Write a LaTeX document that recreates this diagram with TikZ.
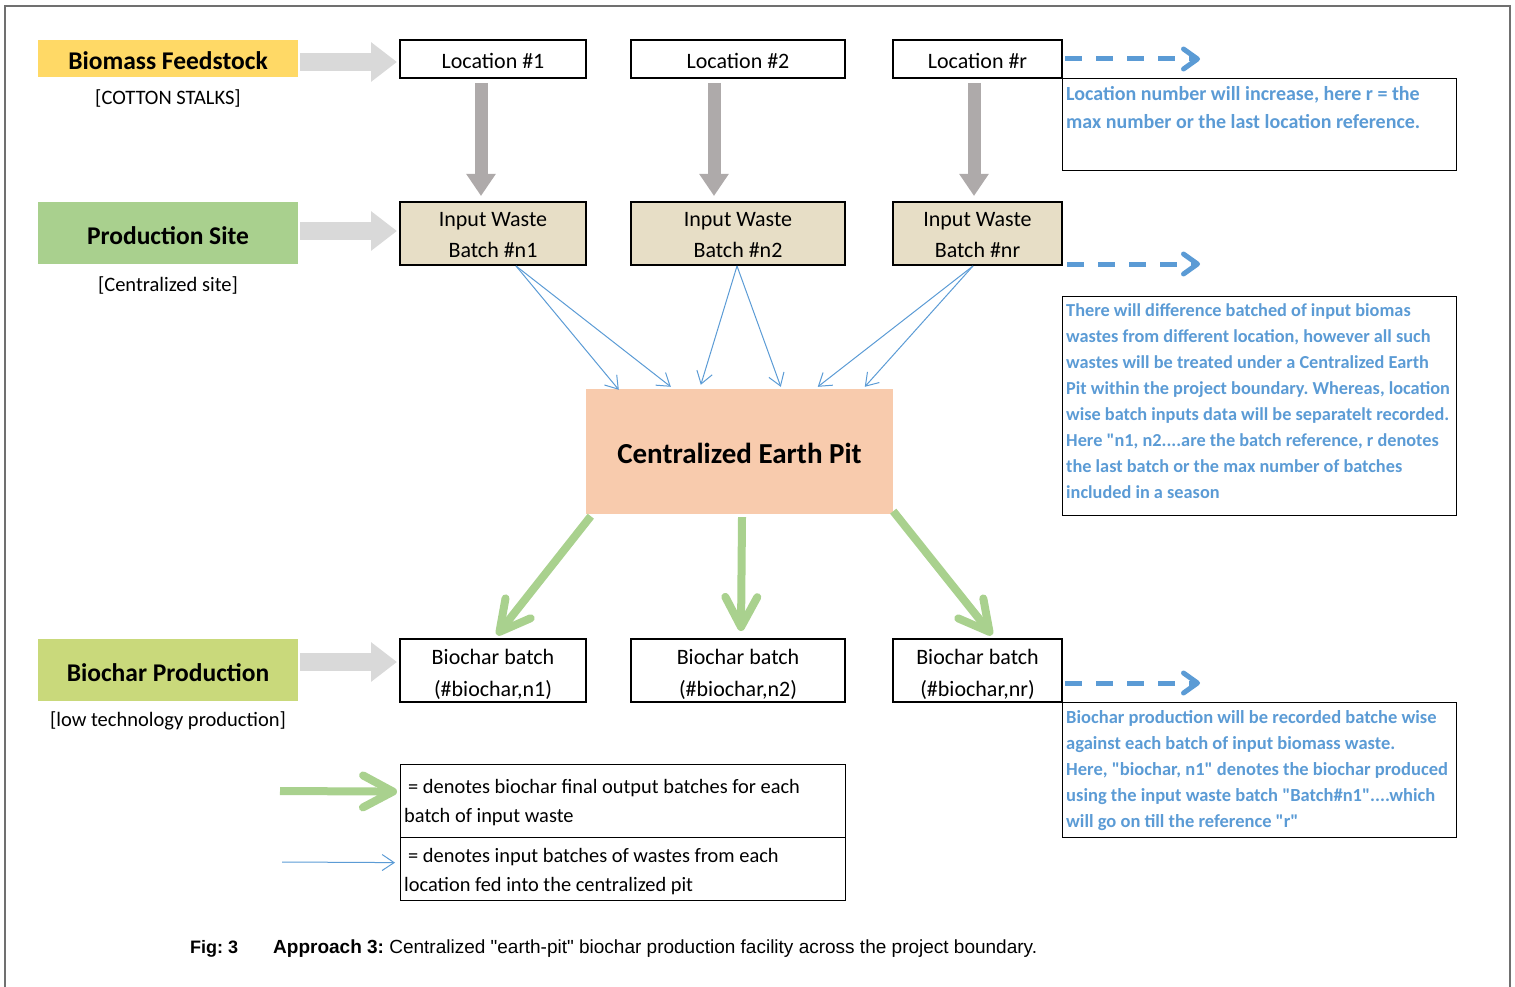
\documentclass[tikz,border=0pt]{standalone}
\usepackage{fontspec}
\setmainfont{Carlito}[Ligatures=TeXOff]
\newfontfamily\arialf{Liberation Sans}[Ligatures=TeXOff]
\usetikzlibrary{arrows.meta}
\definecolor{bluetxt}{HTML}{5B9BD5}
\definecolor{yel}{HTML}{FFD966}
\definecolor{grn}{HTML}{A9D08E}
\definecolor{olive}{HTML}{C9D97B}
\definecolor{beige}{HTML}{E7DEC6}
\definecolor{peach}{HTML}{F8CBAD}
\definecolor{arrgreen}{HTML}{A9D18E}
\definecolor{lgray}{HTML}{D9D9D9}
\definecolor{dgray}{HTML}{AEAAAA}
\definecolor{framecol}{HTML}{707070}
\newcommand\myfs[2]{\fontsize{#1}{#2}\selectfont}
\frenchspacing
\begin{document}
\begin{tikzpicture}[x=1pt,y=-1pt,
  lbl/.style={minimum width=260pt, inner sep=0pt},
  lbltext/.style={inner sep=0pt, font=\myfs{25.5}{30}\bfseries},
  sublbl/.style={inner sep=0pt, font=\myfs{20.5}{24}},
  wbox/.style={draw=black, line width=2pt, inner sep=0pt},
  btext/.style={inner sep=0pt, align=center, font=\myfs{22}{31}},
  notebox/.style={draw=black, line width=1.2pt, inner sep=0pt, minimum width=394pt, anchor=north west},
  notetext/.style={inner sep=0pt, align=left, text=bluetxt, anchor=north west},
  hgray/.style={draw=lgray, line width=18pt, -{Triangle[length=26pt,width=38pt]}},
  vgray/.style={draw=dgray, line width=13pt, -{Triangle[length=22pt,width=28pt]}},
  blueln/.style={draw=bluetxt, line width=1pt, -{Straight Barb[length=12pt,width=16pt]}},
  grnarr/.style={draw=arrgreen, line width=8pt, -{Straight Barb[length=30pt,width=32pt,round]}},
  dasharr/.style={draw=bluetxt, line width=5pt, dash pattern=on 17pt off 14pt, -{Straight Barb[length=14pt,width=20pt,round]}},
]
\useasboundingbox (0,0) rectangle (1515,987);
\draw[framecol, line width=2pt] (5,987) -- (5,6) -- (1510,6) -- (1510,987);

% left labels
\node[lbl, fill=yel, minimum height=37pt] (bf) at (168,58.5) {};
\node[lbltext] (bftx) at ([shift={(0,2)}]bf.center) {Biomass Feedstock};
\node[sublbl] (bft) at (168,98) {[COTTON STALKS]};
\node[lbl, fill=grn, minimum height=62pt] (ps) at (168,233) {};
\node[lbltext] (pstx) at ([shift={(0,3)}]ps.center) {Production Site};
\node[sublbl] (pst) at (168,285) {[Centralized site]};
\node[lbl, fill=olive, minimum height=62pt] (bp) at (168,670) {};
\node[lbltext] (bptx) at ([shift={(0,3)}]bp.center) {Biochar Production};
\node[sublbl] (bpt) at (168,721) {[low technology production]};

% location boxes
\node[wbox, minimum width=186pt, minimum height=38pt] (loc1) at (493,59) {};
\node[wbox, minimum width=214pt, minimum height=38pt] (loc2) at (738,59) {};
\node[wbox, minimum width=169pt, minimum height=38pt] (locr) at (977.5,59) {};
\node[btext] (loc1t) at ([shift={(0,2)}]loc1.center) {Location \#1};
\node[btext] (loc2t) at ([shift={(0,2)}]loc2.center) {Location \#2};
\node[btext] (locrt) at ([shift={(0,2)}]locr.center) {Location \#r};

% input boxes
\node[wbox, fill=beige, minimum width=186pt, minimum height=63pt] (in1) at (493,233.5) {};
\node[wbox, fill=beige, minimum width=214pt, minimum height=63pt] (in2) at (738,233.5) {};
\node[wbox, fill=beige, minimum width=169pt, minimum height=63pt] (inr) at (977.5,233.5) {};
\node[btext] (in1t) at ([shift={(0,2)}]in1.center) {Input Waste\\Batch \#n1};
\node[btext] (in2t) at ([shift={(0,2)}]in2.center) {Input Waste\\Batch \#n2};
\node[btext] (inrt) at ([shift={(0,2)}]inr.center) {Input Waste\\Batch \#nr};

% biochar boxes
\node[wbox, minimum width=186pt, minimum height=63pt] (bc1) at (493,670.5) {};
\node[wbox, minimum width=214pt, minimum height=63pt] (bc2) at (738,670.5) {};
\node[wbox, minimum width=169pt, minimum height=63pt] (bcr) at (977.5,670.5) {};
\node[btext, font=\myfs{22}{32}] (bc1t) at ([shift={(0,3.5)}]bc1.center) {Biochar batch\\(\#biochar,n1)};
\node[btext, font=\myfs{22}{32}] (bc2t) at ([shift={(0,3.5)}]bc2.center) {Biochar batch\\(\#biochar,n2)};
\node[btext, font=\myfs{22}{32}] (bcrt) at ([shift={(0,3.5)}]bcr.center) {Biochar batch\\(\#biochar,nr)};

% pit
\node[fill=peach, minimum width=307pt, minimum height=125pt, inner sep=0pt] (pit) at (739.5,451.5) {};
\node[inner sep=0pt, font=\myfs{29}{34}\bfseries] (pitt) at ([shift={(0,2)}]pit.center) {Centralized Earth Pit};

% notes
\node[notebox, minimum height=92pt] (n1) at (1062,78) {};
\node[notetext, font=\myfs{20}{28}\bfseries] (n1t) at (1066,86.5) {Location number will increase, here r = the\\max number or the last location reference.};
\node[notebox, minimum height=219pt] (n2) at (1062,296) {};
\node[notetext, font=\myfs{18.3}{26}\bfseries] (n2t) at (1066,303) {There will difference batched of input biomas\\wastes from different location, however all such\\wastes will be treated under a Centralized Earth\\Pit within the project boundary. Whereas, location\\wise batch inputs data will be separatelt recorded.\\Here "n1, n2....are the batch reference, r denotes\\the last batch or the max number of batches\\included in a season};
\node[notebox, minimum height=135pt] (n3) at (1062,702) {};
\node[notetext, font=\myfs{18.5}{26}\bfseries] (n3t) at (1066,710) {Biochar production will be recorded batche wise\\against each batch of input biomass waste.\\Here, "biochar, n1" denotes the biochar produced\\using the input waste batch "Batch\#n1"....which\\will go on till the reference "r"};

% legend
\node[notebox, minimum width=445pt, minimum height=73pt] (lg1) at (400,764) {};
\node[notebox, minimum width=445pt, minimum height=63pt] (lg2) at (400,837) {};
\node[notetext, text=black, font=\myfs{20.4}{29}] (lg1t) at (404,779) {\hspace{4pt}= denotes biochar final output batches for each\\batch of input waste};
\node[notetext, text=black, font=\myfs{20.4}{29}] (lg2t) at (404,848) {\hspace{4pt}= denotes input batches of wastes from each\\location fed into the centralized pit};

% gray block arrows
\draw[hgray] ([shift={(2,3.5)}]bf.east) -- ([shift={(-2,3)}]loc1.west);
\draw[hgray] ([shift={(2,-2)}]ps.east) -- ([shift={(-2,-2.5)}]in1.west);
\draw[hgray] ([shift={(2,-8)}]bp.east) -- ([shift={(-2,-8.5)}]bc1.west);
\draw[vgray] ([shift={(-12,4)}]loc1.south) -- ([shift={(-12,-5)}]in1.north);
\draw[vgray] ([shift={(-24,4)}]loc2.south) -- ([shift={(-24,-5)}]in2.north);
\draw[vgray] ([shift={(-3.5,4)}]locr.south) -- ([shift={(-3.5,-5)}]inr.north);

% thin blue arrows
\draw[blueln] ([shift={(23,0)}]in1.south) -- ([shift={(33,1)}]pit.north west);
\draw[blueln] ([shift={(23,0)}]in1.south) -- ([shift={(85,-2)}]pit.north west);
\draw[blueln] ([shift={(-1,0)}]in2.south) -- ([shift={(115,-4)}]pit.north west);
\draw[blueln] ([shift={(-1,0)}]in2.south) -- ([shift={(195,-2)}]pit.north west);
\draw[blueln] ([shift={(-4.5,0)}]inr.south) -- ([shift={(232,-2)}]pit.north west);
\draw[blueln] ([shift={(-4.5,0)}]inr.south) -- ([shift={(279,-2)}]pit.north west);

% green arrows
\draw[grnarr] ([shift={(5,2)}]pit.south west) -- ([shift={(4,-3)}]bc1.north);
\draw[grnarr] ([shift={(2.5,3)}]pit.south) -- ([shift={(3,-7)}]bc2.north);
\draw[grnarr] ([shift={(0,-3)}]pit.south east) -- ([shift={(14.5,-3)}]bcr.north);

% dashed arrows
\coordinate (d1e) at (1200,59);
\coordinate (d2e) at (1200,264);
\coordinate (d3e) at (1200,683);
\draw[dasharr] ([shift={(2,0)}]locr.east) -- (d1e);
\draw[dasharr] ([shift={(4,30.5)}]inr.east) -- (d2e);
\draw[dasharr] ([shift={(2,12.5)}]bcr.east) -- (d3e);

% legend arrows
\coordinate (lga) at (280,791);
\coordinate (lgb) at (282,862);
\draw[grnarr] (lga) -- ([shift={(-3,-9.5)}]lg1.west);
\draw[blueln] (lgb) -- ([shift={(-5,-6.5)}]lg2.west);

% caption
\node[anchor=base west, inner sep=0pt, font=\arialf\myfs{18}{21}\bfseries] (fig) at (190,953) {Fig: 3};
\node[anchor=base west, inner sep=0pt, font=\arialf\myfs{19}{22}] (cap) at (273,953) {\textbf{Approach 3:} Centralized "earth-pit" biochar production facility across the project boundary.};
\end{tikzpicture}
\end{document}
